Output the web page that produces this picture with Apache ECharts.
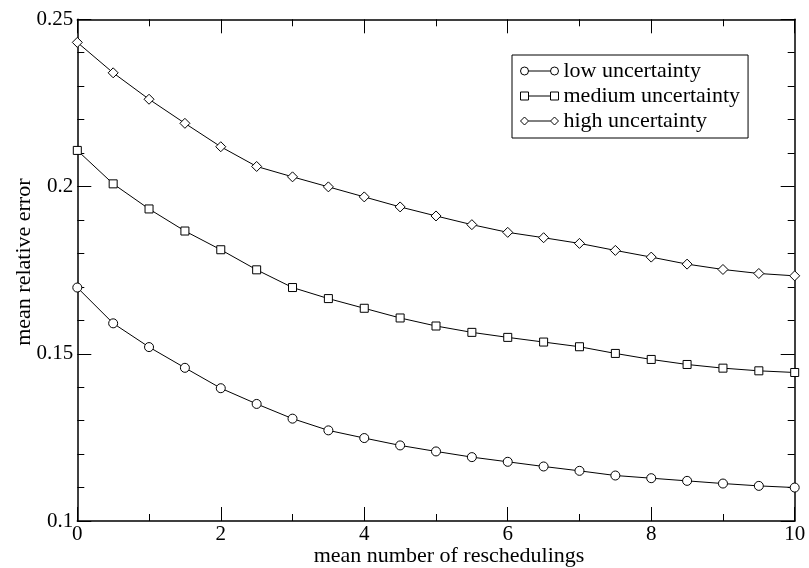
<!DOCTYPE html>
<html>
<head>
<meta charset="utf-8">
<script src="https://cdn.jsdelivr.net/npm/echarts@6/dist/echarts.min.js"></script>
<style>html,body{margin:0;padding:0;background:#fff;}#chart{width:809px;height:568px;}</style>
</head>
<body>
<div id="chart"></div>
<script>
const xValues = [0,0.5,1,1.5,2,2.5,3,3.5,4,4.5,5,5.5,6,6.5,7,7.5,8,8.5,9,9.5,10];
const lowUncertainty = [0.1698,0.1591,0.1520,0.1458,0.1397,0.1350,0.1306,0.1271,0.1248,0.1226,0.1208,0.1191,0.1177,0.1163,0.1150,0.1136,0.1128,0.1120,0.1112,0.1105,0.1100];
const mediumUncertainty = [0.2108,0.2008,0.1933,0.1867,0.1811,0.1751,0.1698,0.1665,0.1636,0.1607,0.1583,0.1564,0.1549,0.1535,0.1521,0.1501,0.1483,0.1468,0.1457,0.1449,0.1444];
const highUncertainty = [0.2431,0.2340,0.2261,0.2189,0.2119,0.2060,0.2029,0.1999,0.1969,0.1939,0.1912,0.1886,0.1863,0.1847,0.1830,0.1809,0.1789,0.1768,0.1752,0.1740,0.1733];
const seriesNames = ['low uncertainty','medium uncertainty','high uncertainty'];
const xTitle = 'mean number of reschedulings';
const yTitle = 'mean relative error';

const FONT = "'Liberation Serif','Times New Roman',serif";
const chart = echarts.init(document.getElementById('chart'), null, {renderer:'canvas'});

function pairs(ys){ return xValues.map((x,i)=>[x, ys[i]]); }

const axisLine = {show:true, onZero:false, lineStyle:{color:'#000', width:1.5}};
const tick = {show:true, inside:true, length:14, lineStyle:{color:'#000', width:1}};
function minor(n){ return {show:true, splitNumber:n, length:7, lineStyle:{color:'#000', width:1}}; }

const icons = {
  circle: 'path://M0,4A4,4 0 1 1 8,4A4,4 0 1 1 0,4Z M8,4L30,4 M30,4A4,4 0 1 1 38,4A4,4 0 1 1 30,4Z',
  rect: 'path://M0,0L8,0L8,8L0,8Z M8,4L30,4 M30,0L38,0L38,8L30,8Z',
  diamond: 'path://M0,4L4,0L8,4L4,8Z M8,4L30,4 M30,4L34,0L38,4L34,8Z'
};

function mkSeries(name, ys, symbol, size){
  return {
    name: name, type:'line', data: pairs(ys), xAxisIndex:0, yAxisIndex:0,
    symbol: symbol, symbolSize: size, showSymbol:true,
    lineStyle:{color:'#000', width:1},
    itemStyle:{color:'#fff', borderColor:'#000', borderWidth:1},
    emphasis:{disabled:true}, clip:false, z:3
  };
}

chart.setOption({
  backgroundColor:'#fff',
  animation:false,
  grid:{left:77.3, right:14.3, top:19.3, bottom:47, containLabel:false, outerBoundsMode:'none'},
  legend:{
    orient:'vertical', left:512, top:55,
    padding:[4,8,5,8], itemGap:1, itemWidth:38, itemHeight:8,
    borderColor:'#000', borderWidth:1, backgroundColor:'#fff',
    textStyle:{color:'#000', fontFamily:FONT, fontSize:22, lineHeight:24},
    itemStyle:{color:'#fff', borderColor:'#000', borderWidth:1},
    selectedMode:false,
    data:[
      {name:seriesNames[0], icon:icons.circle},
      {name:seriesNames[1], icon:icons.rect},
      {name:seriesNames[2], icon:icons.diamond}
    ]
  },
  xAxis:[
    {type:'value', position:'bottom', min:0, max:10, interval:2,
     axisLine:axisLine, axisTick:tick, minorTick:minor(2), splitLine:{show:false},
     axisLabel:{color:'#000', fontFamily:FONT, fontSize:21, margin:3},
     name:xTitle, nameLocation:'middle', nameGap:24, nameMoveOverlap:false,
     nameTextStyle:{color:'#000', fontFamily:FONT, fontSize:22, padding:[0,0,0,26]}},
    {type:'value', position:'top', min:0, max:10, interval:2,
     axisLine:axisLine, axisTick:tick, minorTick:minor(2), splitLine:{show:false},
     axisLabel:{show:false}}
  ],
  yAxis:[
    {type:'value', position:'left', min:0.1, max:0.25, interval:0.05,
     axisLine:axisLine, axisTick:tick, minorTick:minor(5), splitLine:{show:false},
     axisLabel:{color:'#000', fontFamily:FONT, fontSize:21, margin:4},
     name:yTitle, nameLocation:'middle', nameGap:42, nameMoveOverlap:false,
     nameTextStyle:{color:'#000', fontFamily:FONT, fontSize:22, padding:[0,0,0,16]}},
    {type:'value', position:'right', min:0.1, max:0.25, interval:0.05,
     axisLine:axisLine, axisTick:tick, minorTick:minor(5), splitLine:{show:false},
     axisLabel:{show:false}}
  ],
  series:[
    mkSeries(seriesNames[0], lowUncertainty, 'circle', 9),
    mkSeries(seriesNames[1], mediumUncertainty, 'rect', 8),
    mkSeries(seriesNames[2], highUncertainty, 'diamond', 10)
  ]
});
</script>
</body>
</html>
